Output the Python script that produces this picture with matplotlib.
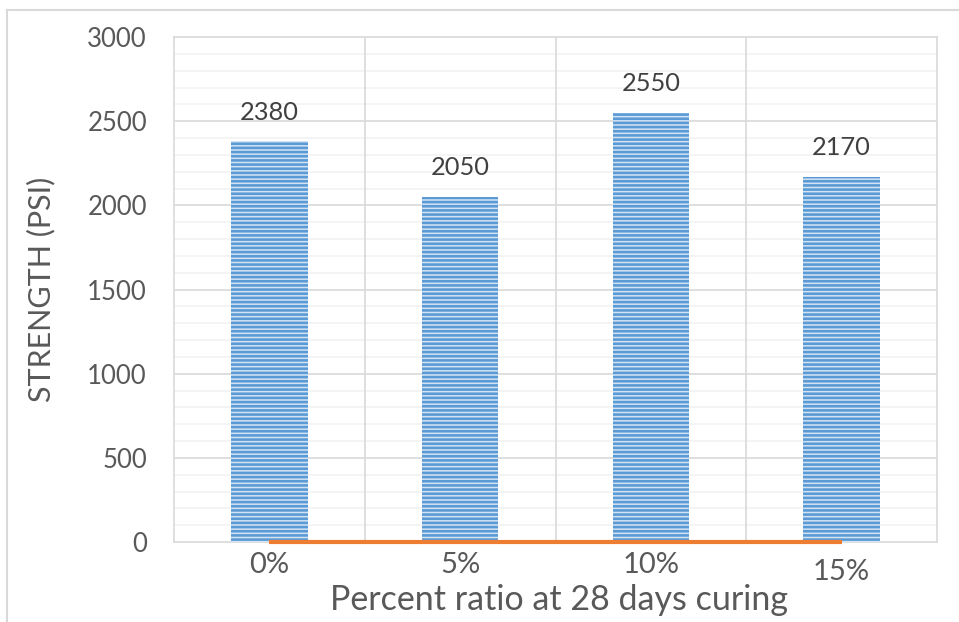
import matplotlib
matplotlib.use("Agg")
import matplotlib.pyplot as plt
import matplotlib.transforms as mtransforms
from matplotlib.lines import Line2D
import numpy as np

# Compressive strength after 28 days of curing
categories = ["0%", "5%", "10%", "15%"]
strength = [2380, 2050, 2550, 2170]
baseline = [0, 0, 0, 0]

y_ticks = [0, 500, 1000, 1500, 2000, 2500, 3000]

plt.rcParams["font.family"] = ["Lato", "DejaVu Sans"]
plt.rcParams["hatch.linewidth"] = 1.9

BLUE = "#5B9BD5"
ORANGE = "#ED7D31"
GRID = "#D9D9D9"
MINOR = "#F2F2F2"
TXT = "#595959"

fig = plt.figure(figsize=(9.59, 6.22), dpi=100)
ax = fig.add_axes([174 / 959, 80 / 622, 763 / 959, 505 / 622])

x = np.arange(len(categories))
bars = ax.bar(x, strength, width=0.4, facecolor="#D3E3F4", edgecolor=BLUE,
              linewidth=0, hatch="----", zorder=3)

ax.plot(x, baseline, color=ORANGE, lw=3, solid_capstyle="butt",
        clip_on=False, zorder=5)

for xi, v in zip(x, strength):
    ax.annotate(f"{v}", (xi, v), xytext=(0, 21), textcoords="offset points",
                ha="center", va="center", fontsize=18.3, color="#404040")

ax.set_xlim(-0.5, len(categories) - 0.5)
ax.set_ylim(0, 3000)
ax.set_yticks(y_ticks)
ax.set_yticklabels([str(t) for t in y_ticks])
ax.set_xticks(x)
ax.set_xticklabels(categories)

# horizontal gridlines (major and minor) and category separators
for yv in np.arange(100, 3000, 100):
    ax.axhline(yv, color=GRID if yv % 500 == 0 else MINOR, lw=1.2, zorder=1)
for b in np.arange(0.5, len(categories) - 0.5, 1):
    ax.axvline(b, color=GRID, lw=1.2, zorder=1)

for s in ax.spines.values():
    s.set_color(GRID)
    s.set_linewidth(1.2)

ax.tick_params(axis="both", which="both", length=0)
ax.tick_params(axis="y", labelsize=18.5, labelcolor=TXT, pad=19.5)
ax.tick_params(axis="x", labelsize=21, labelcolor=TXT, pad=7)

# last category label sits a little lower
lbl = ax.get_xticklabels()[-1]
lbl.set_transform(lbl.get_transform() +
                  mtransforms.ScaledTranslation(0, -7 / 100, fig.dpi_scale_trans))

ax.set_ylabel("STRENGTH (PSI)", fontsize=22, color=TXT)
ax.yaxis.set_label_coords(-0.155, 0.5)
ax.set_xlabel("Percent ratio at 28 days curing", fontsize=24.5, color=TXT)
ax.xaxis.set_label_coords(0.505, -0.083)

# chart-area border
fig.add_artist(Line2D([7 / 959, 7 / 959], [0, 1 - 10 / 622],
                      transform=fig.transFigure, color=GRID, lw=1.5))
fig.add_artist(Line2D([7 / 959, 1], [1 - 10 / 622, 1 - 10 / 622],
                      transform=fig.transFigure, color=GRID, lw=1.5))

fig.savefig("out.png", dpi=100)
